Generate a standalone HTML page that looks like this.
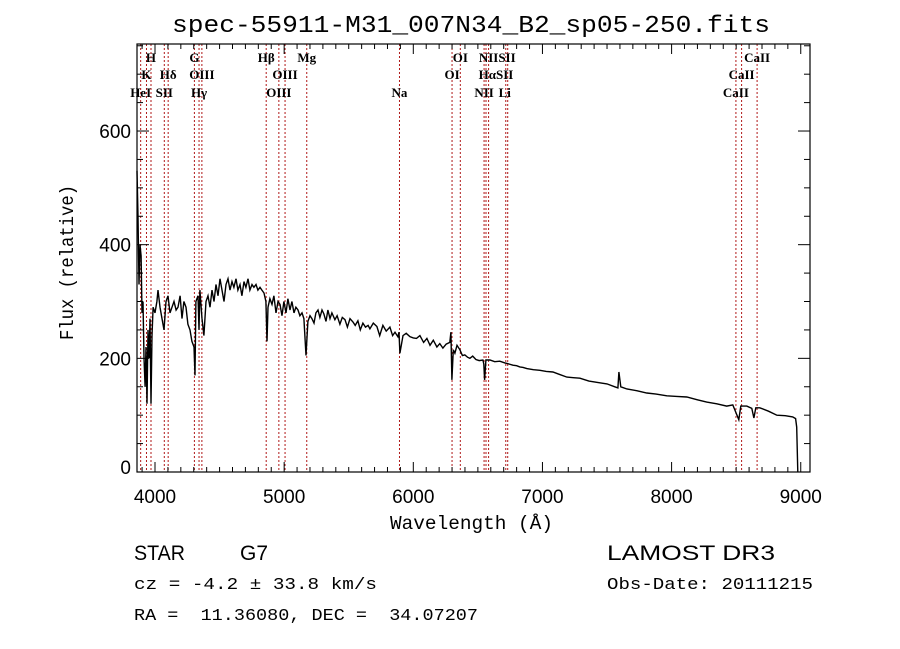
<!DOCTYPE html>
<html><head><meta charset="utf-8"><style>
body{margin:0;background:#fff;}
svg{display:block;}
text{white-space:pre;}
</style></head><body>
<svg id="chart" width="900" height="649" viewBox="0 0 900 649" xmlns="http://www.w3.org/2000/svg" xml:space="preserve">
<rect width="900" height="649" fill="#fff"/>
<text x="172" y="32" textLength="598" lengthAdjust="spacingAndGlyphs" font-family="Liberation Mono, monospace" font-size="24">spec-55911-M31_007N34_B2_sp05-250.fits</text>
<g id="lines"></g>
<g id="axes"></g>
<path id="spec" fill="none" stroke="#000" stroke-width="1.4"/>
<text x="390" y="529" textLength="163" lengthAdjust="spacingAndGlyphs" font-family="Liberation Mono, monospace" font-size="19">Wavelength (Å)</text>
<text transform="translate(73,340) rotate(-90)" textLength="155" lengthAdjust="spacingAndGlyphs" font-family="Liberation Mono, monospace" font-size="19">Flux (relative)</text>
<text x="134" y="560" textLength="51" lengthAdjust="spacingAndGlyphs" font-family="Liberation Sans, sans-serif" font-size="21">STAR</text>
<text x="240" y="560" font-family="Liberation Sans, sans-serif" font-size="21">G7</text>
<text x="134" y="589" textLength="243" lengthAdjust="spacingAndGlyphs" font-family="Liberation Mono, monospace" font-size="17">cz = -4.2 ± 33.8 km/s</text>
<text x="134" y="620" textLength="344" lengthAdjust="spacingAndGlyphs" font-family="Liberation Mono, monospace" font-size="17">RA =  11.36080, DEC =  34.07207</text>
<text x="607" y="560" textLength="168" lengthAdjust="spacingAndGlyphs" font-family="Liberation Sans, sans-serif" font-size="21">LAMOST DR3</text>
<text x="607" y="589" textLength="206" lengthAdjust="spacingAndGlyphs" font-family="Liberation Mono, monospace" font-size="17">Obs-Date: 20111215</text>
</svg>
<script>
const waves = [
3861,3868,3876,3884,3892,3899,3907,3915,3923,3930,
3938,3946,3954,3961,3969,3977,3985,4000,4015,4023,
4039,4054,4070,4085,4101,4116,4132,4147,4163,4178,
4194,4209,4224,4240,4255,4271,4286,4302,4310,4317,
4333,4341,4348,4364,4379,4395,4410,4426,4441,4457,
4472,4488,4503,4519,4534,4550,4565,4581,4596,4611,
4627,4642,4658,4673,4689,4704,4720,4735,4751,4766,
4782,4797,4813,4828,4844,4859,4867,4875,4890,4906,
4921,4937,4952,4968,4983,4998,5014,5029,5045,5060,
5076,5091,5107,5122,5138,5153,5169,5184,5200,5215,
5231,5246,5262,5277,5293,5308,5324,5339,5355,5370,
5393,5410,5432,5450,5471,5490,5510,5533,5550,5571,
5590,5610,5630,5650,5664,5690,5718,5740,5765,5790,
5819,5840,5858,5881,5889,5896,5920,5945,5974,6000,
6025,6051,6080,6105,6129,6155,6183,6205,6229,6255,
6283,6291,6299,6310,6322,6338,6361,6380,6399,6420,
6438,6460,6485,6510,6539,6546,6552,6562,6593,6630,
6670,6709,6740,6771,6800,6825,6850,6879,6930,6980,
7030,7081,7130,7189,7240,7290,7360,7444,7500,7560,
7584,7592,7607,7654,7730,7808,7880,7963,8040,8118,
8200,8272,8350,8427,8474,8520,8536,8582,8621,8637,
8652,8683,8750,8815,8880,8938,8960,8969,8977];
const flux = [
530,450,330,400,380,280,300,200,150,220,
120,250,200,270,120,240,290,280,300,320,
290,270,250,300,310,280,290,300,285,290,
310,270,300,290,260,250,230,220,170,300,
310,250,320,270,240,300,310,290,320,300,
330,310,340,320,300,330,340,320,335,325,
340,320,330,310,335,325,340,320,330,325,
330,320,325,320,315,300,230,290,305,295,
310,280,300,295,275,300,280,305,285,300,
280,290,285,275,280,270,205,265,275,270,
262,280,285,272,285,278,265,285,270,280,
268,275,260,272,268,255,270,264,258,266,
250,262,255,258,252,262,256,240,258,248,
255,240,246,238,246,209,240,244,238,236,
235,240,228,235,223,232,220,226,218,225,
228,246,162,215,209,223,215,205,206,202,
200,204,198,196,197,190,162,197,197,194,
195,192,190,188,187,185,184,182,180,179,
177,176,172,167,166,165,160,157,155,150,
148,176,150,146,143,139,137,134,133,132,
127,123,120,116,118,92,116,116,112,95,
113,113,107,100,99,97,94,79,0];
const lineWaves = [3889,3934,3969,4072,4102,4305,4341,4363,4861,4959,5007,5175,5893,6300,6364,6548,6563,6583,6716,6731,8498,8542,8662];
const lineLabels = [["H",3969,0],["G",4305,0],["Hβ",4861,0],["Mg",5175,0],["OI",6364,0],["NIISII",6650,0],["CaII",8662,0],
 ["K",3934,1],["Hδ",4102,1],["OIII",4363,1],["OIII",5007,1],["OI",6300,1],["HαSII",6640,1],["CaII",8542,1],
 ["HeI",3889,2],["SII",4072,2],["Hγ",4341,2],["OIII",4959,2],["Na",5893,2],["NII",6548,2],["Li",6708,2],["CaII",8498,2]];
const xTicks = [4000,5000,6000,7000,8000,9000];
const yTicks = [0,200,400,600];

const L=137,R=810,T=44,B=472;
const X = w => 155 + (w-4000)*0.12915;
const Y = v => B - v*0.5683;
const NS="http://www.w3.org/2000/svg";
function mk(tag, attrs, parent){const e=document.createElementNS(NS,tag);for(const k in attrs)e.setAttribute(k,attrs[k]);parent.appendChild(e);return e;}

const gl=document.getElementById('lines');
lineWaves.forEach(w=>{
  const l=mk('line',{x1:X(w),x2:X(w),y1:T,y2:B,stroke:'#b01818','stroke-width':1,'stroke-dasharray':'2,2'},gl);
  
  
});
const rowY=[62,79,97];
lineLabels.forEach(([t,w,r])=>{
  const e=mk('text',{x:X(w),y:rowY[r],'text-anchor':'middle','font-family':'Liberation Serif, serif','font-size':13,'font-weight':'bold'},gl);
  e.textContent=t;
  
  
});

const ga=document.getElementById('axes');
mk('rect',{x:L,y:T,width:R-L,height:B-T,fill:'none',stroke:'#000','stroke-width':1.2},ga);
for(let w=3900;w<=9000;w+=100){
  const len = w%1000===0?10:5;
  mk('line',{x1:X(w),x2:X(w),y1:B,y2:B-len,stroke:'#000'},ga);
  mk('line',{x1:X(w),x2:X(w),y1:T,y2:T+len,stroke:'#000'},ga);
}
xTicks.forEach(w=>{
  const e=mk('text',{x:X(w),y:503,'text-anchor':'middle','font-family':'Liberation Sans, sans-serif','font-size':19},ga);
  e.textContent=w;
  
  
});
for(let v=0;v<=750;v+=50){
  const len=v%200===0?12:6;
  mk('line',{x1:L,x2:L+len,y1:Y(v),y2:Y(v),stroke:'#000'},ga);
  mk('line',{x1:R,x2:R-len,y1:Y(v),y2:Y(v),stroke:'#000'},ga);
}
yTicks.forEach(v=>{
  const e=mk('text',{x:131,y:Y(v)+(v===0?2:7),'text-anchor':'end','font-family':'Liberation Sans, sans-serif','font-size':19},ga);
  e.textContent=v;
  
  
});

let d='';
const n=Math.min(waves.length,flux.length);
for(let i=0;i<n;i++){d+=(i?'L':'M')+X(waves[i]).toFixed(1)+','+Y(flux[i]).toFixed(1);}
document.getElementById('spec').setAttribute('d',d);
</script>
</body></html>
